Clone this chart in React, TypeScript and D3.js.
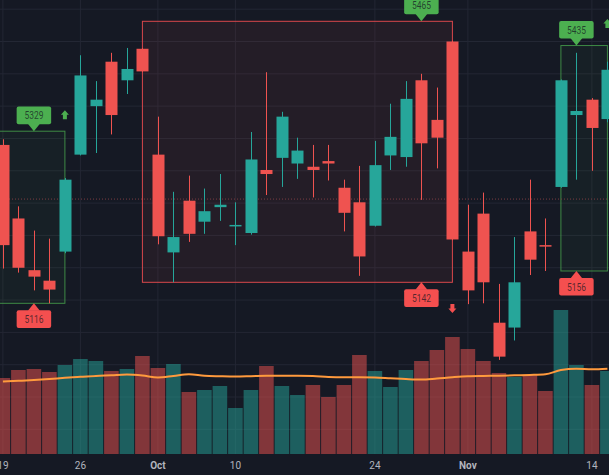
import React from "react";
import * as d3 from "d3";

// ---- data ----
const opens = [5312, 5221, 5157, 5144, 5180, 5300, 5360, 5415, 5392, 5431, 5300, 5179, 5243, 5217, 5235, 5212.5, 5203, 5281, 5296, 5289, 5285, 5292, 5259, 5241, 5212, 5299, 5297, 5392, 5343, 5440, 5180, 5227, 5092, 5086, 5205, 5188, 5260, 5349, 5368, 5344];
const highs = [5319, 5236, 5206, 5196, 5271, 5423, 5391, 5426, 5432, 5432, 5347, 5254, 5274, 5258, 5276, 5241, 5328, 5402, 5353, 5321, 5312, 5312, 5269, 5286, 5317, 5363, 5391, 5400, 5383, 5441, 5238, 5253, 5140, 5198, 5269, 5221, 5393, 5426, 5370, 5415];
const lows = [5159, 5154, 5132, 5116, 5178, 5299, 5302, 5325, 5375, 5402, 5189, 5142, 5192, 5202, 5218, 5188, 5201, 5250, 5260, 5270, 5247, 5268, 5205, 5150, 5211, 5281, 5285, 5244, 5283, 5194, 5115, 5116, 5046, 5070, 5151, 5156, 5259, 5269, 5280, 5340];
const closes = [5188, 5160, 5149, 5133, 5269, 5398, 5368, 5349, 5406, 5403, 5199, 5198, 5202, 5230, 5238, 5213, 5294, 5276, 5347, 5305, 5281, 5289, 5228, 5174, 5287, 5322, 5369, 5314, 5321, 5195, 5132, 5142, 5050, 5142, 5170, 5187, 5392, 5354, 5333, 5405];
const volumes = [76, 84, 85, 82, 89, 95, 93, 83, 85, 98, 86, 90, 62, 64, 68, 46, 64, 88, 68, 59, 69, 57, 69, 99, 83, 67, 84, 93, 104, 117, 105, 93, 81, 77, 79, 63, 144, 89, 69, 83];
const volumeMA = [72.5, 73.2, 74, 75, 76.2, 77.2, 78.1, 78.7, 79.4, 78.5, 76.5, 78, 79.7, 78.2, 77.7, 77.4, 77.8, 78.3, 78.3, 78.3, 78, 77, 76.7, 76.7, 76.5, 75.7, 74.9, 74.4, 75.5, 76.8, 77.8, 78.1, 78.3, 78.7, 79.1, 79.7, 84, 85.2, 84.8, 85.3];

const tickIndex = [0, 5, 10, 15, 24, 30, 38];
const tickLabels = ["19", "26", "Oct", "10", "24", "Nov", "14"];
const monthTicks = ["Oct", "Nov"];

const priceGrid = [5480, 5440, 5400, 5360, 5320, 5280, 5240, 5200, 5160, 5120, 5080, 5040, 5000, 4960];

const boxStart = [-1, 9, 36];
const boxEnd = [4, 29, 39];
const boxTop = [5329, 5465, 5435];
const boxBottom = [5116, 5142, 5156];
const boxLabelAt = [2, 27, 37];
const boxKind = ["green", "red", "green"];

const arrowIndex = [4, 29, 39];
const arrowPrice = [5355, 5104, 5468];
const arrowDir = ["up", "down", "up"];

const lastPrice = 5245;

// ---- chart ----
const W = 609;
const H = 475;
const BG = "#151924";
const UP = "#26a69a";
const DOWN = "#ef5350";

export default function App() {
  const x = d3.scaleLinear().domain([0, 39]).range([2.9, 607.4]);
  const y = d3.scaleLinear().domain([5142, 5465]).range([282.3, 21.3]);
  const yv = d3.scaleLinear().domain([0, 150]).range([454, 304]);
  const bodyW = 12;
  const volW = 14.6;

  const maLine = d3
    .line<number>()
    .x((_, i) => x(i))
    .y((d) => yv(d))
    .curve(d3.curveMonotoneX);

  const idx = d3.range(opens.length);

  const arrowPath = (cx: number, ty: number, dir: string) => {
    const s = dir === "up" ? 1 : -1;
    const p = (dx: number, dy: number) => `${cx + dx},${ty + s * dy}`;
    return `M${p(0, 0)}L${p(4, 4.5)}L${p(2, 4.5)}L${p(2, 9)}L${p(-2, 9)}L${p(-2, 4.5)}L${p(-4, 4.5)}Z`;
  };

  return (
    <div style={{ position: "fixed", left: 0, top: 0, width: W, height: H, background: BG }}>
      <svg width={W} height={H} style={{ display: "block" }}>
        <rect x={0} y={0} width={W} height={H} fill={BG} />
        {/* grid */}
        <g>
          {priceGrid.map((p) => (
            <line key={"h" + p} x1={0} x2={W} y1={y(p)} y2={y(p)} stroke="#232734" strokeWidth={1} />
          ))}
          {tickIndex.map((t) => (
            <line key={"v" + t} x1={x(t)} x2={x(t)} y1={0} y2={454} stroke="#232734" strokeWidth={1} />
          ))}
        </g>
        {/* boxes fill */}
        <g>
          {boxStart.map((s, k) => {
            const x0 = x(s);
            const x1 = x(boxEnd[k]);
            const y0 = y(boxTop[k]);
            const y1 = y(boxBottom[k]);
            const red = boxKind[k] === "red";
            return (
              <rect
                key={"b" + k}
                x={x0}
                y={y0}
                width={x1 - x0}
                height={y1 - y0}
                fill={red ? "rgba(239,83,80,0.07)" : "rgba(76,175,80,0.05)"}
                stroke={red ? "#d9484c" : "rgba(76,175,80,0.75)"}
                strokeWidth={1}
              />
            );
          })}
        </g>
        {/* volume */}
        <g>
          {idx.map((i) => {
            const up = closes[i] >= opens[i];
            return (
              <rect
                key={"v" + i}
                x={x(i) - volW / 2}
                y={yv(volumes[i])}
                width={volW}
                height={yv(0) - yv(volumes[i])}
                fill={up ? "rgba(38,166,154,0.5)" : "rgba(239,83,80,0.5)"}
              />
            );
          })}
        </g>
        <path d={maLine(volumeMA) || ""} fill="none" stroke="#ff9a3d" strokeWidth={2} />
        {/* last price dotted */}
        <line x1={0} x2={W} y1={y(lastPrice)} y2={y(lastPrice)} stroke="#7a3c42" strokeWidth={1} strokeDasharray="1 2" />
        {/* candles */}
        <g>
          {idx.map((i) => {
            const up = closes[i] >= opens[i];
            const c = up ? UP : DOWN;
            const top = y(Math.max(opens[i], closes[i]));
            const bot = y(Math.min(opens[i], closes[i]));
            const cx = Math.round(x(i)) + 0.5;
            return (
              <g key={"c" + i}>
                <line x1={cx} x2={cx} y1={y(highs[i])} y2={y(lows[i])} stroke={c} strokeWidth={1} />
                <rect x={cx - bodyW / 2} y={top} width={bodyW} height={Math.max(1.5, bot - top)} fill={c} />
              </g>
            );
          })}
        </g>
        {/* box labels */}
        <g>
          {boxStart.map((_, k) => {
            const cx = x(boxLabelAt[k]);
            const topY = y(boxTop[k]);
            const botY = y(boxBottom[k]);
            const wL = 34.5;
            const hL = 17.6;
            const ptr = 7;
            const topFill = "#4caf50";
            const botFill = "#f44f4f";
            const txt = "rgba(20,23,34,0.72)";
            return (
              <g key={"l" + k}>
                <path d={`M${cx},${topY}L${cx - 6},${topY - ptr - 0.5}L${cx + 6},${topY - ptr - 0.5}Z`} fill={topFill} />
                <rect x={cx - wL / 2} y={topY - ptr - hL} width={wL} height={hL} rx={2} fill={topFill} />
                <text
                  x={cx}
                  y={topY - ptr - hL / 2}
                  dy="0.36em"
                  textAnchor="middle"
                  fontFamily="Roboto, sans-serif"
                  fontSize={10.5}
                  fill={txt}
                  textLength={19}
                  lengthAdjust="spacingAndGlyphs"
                >
                  {String(boxTop[k])}
                </text>
                <path d={`M${cx},${botY}L${cx - 6},${botY + ptr + 0.5}L${cx + 6},${botY + ptr + 0.5}Z`} fill={botFill} />
                <rect x={cx - wL / 2} y={botY + ptr} width={wL} height={hL} rx={2} fill={botFill} />
                <text
                  x={cx}
                  y={botY + ptr + hL / 2}
                  dy="0.36em"
                  textAnchor="middle"
                  fontFamily="Roboto, sans-serif"
                  fontSize={10.5}
                  fill={txt}
                  textLength={19}
                  lengthAdjust="spacingAndGlyphs"
                >
                  {String(boxBottom[k])}
                </text>
              </g>
            );
          })}
        </g>
        {/* arrows */}
        <g>
          {arrowIndex.map((ai, k) => (
            <path
              key={"a" + k}
              d={arrowPath(x(ai), y(arrowPrice[k]), arrowDir[k])}
              fill={arrowDir[k] === "up" ? "#4caf50" : "#f44f4f"}
            />
          ))}
        </g>
        {/* time axis */}
        <g>
          {tickIndex.map((t, k) => (
            <text
              key={"t" + k}
              x={x(t)}
              y={469}
              textAnchor="middle"
              fontFamily="Roboto, sans-serif"
              fontSize={10}
              fontWeight={monthTicks.includes(tickLabels[k]) ? 700 : 400}
              fill="#b2b5be"
            >
              {tickLabels[k]}
            </text>
          ))}
        </g>
      </svg>
    </div>
  );
}
